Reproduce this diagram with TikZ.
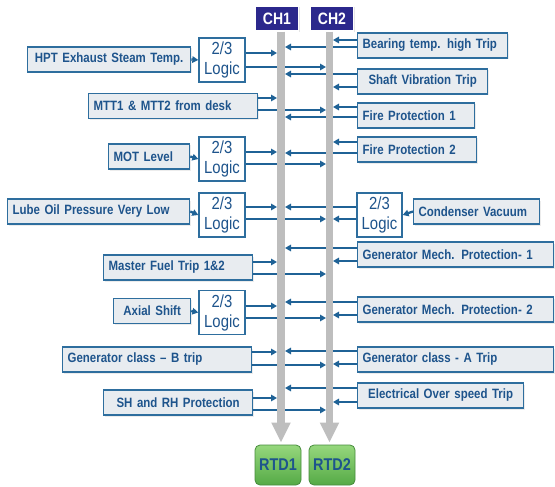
\documentclass[tikz,border=0pt]{standalone}
\usepackage{fontspec}
\newfontfamily\nfont{Liberation Sans}[FakeStretch=0.85,Ligatures=TeX]
\usetikzlibrary{arrows.meta,shadows}

\definecolor{sigblue}{RGB}{31,98,150}
\definecolor{boxline}{RGB}{46,110,158}
\definecolor{boxfill}{RGB}{232,236,240}
\definecolor{txtblue}{RGB}{30,84,140}
\definecolor{busgray}{RGB}{190,190,190}
\definecolor{chfill}{RGB}{43,40,140}
\definecolor{rtdtop}{RGB}{150,215,125}
\definecolor{rtdbot}{RGB}{85,170,70}
\definecolor{rtdline}{RGB}{70,140,60}

\tikzset{
  inbox/.style={draw=boxline, line width=1.3pt, fill=boxfill, text=txtblue,
    font=\nfont\fontsize{13.5}{15}\selectfont\bfseries, minimum height=25pt,
    inner xsep=5pt, inner ysep=0pt, anchor=west, align=left,
    drop shadow={shadow xshift=1.5pt, shadow yshift=-1.5pt, opacity=0.15}},
  logic/.style={draw=boxline, line width=1.3pt, fill=white, text=txtblue,
    font=\nfont\fontsize{17.5}{20}\selectfont, minimum width=46pt,
    minimum height=44pt, inner sep=1pt, align=center},
  chbox/.style={draw=white, line width=1.5pt, fill=chfill, text=white,
    font=\nfont\fontsize{16.5}{18}\selectfont\bfseries, minimum width=43pt,
    minimum height=25pt, inner sep=1pt,
    drop shadow={shadow xshift=1pt, shadow yshift=-1pt, opacity=0.2}},
  rtd/.style={draw=rtdline, line width=0.8pt, rounded corners=5pt,
    top color=rtdtop, bottom color=rtdbot, text=txtblue,
    font=\nfont\fontsize{17}{18}\selectfont\bfseries, minimum width=46pt,
    minimum height=40pt, inner sep=1pt},
  sig/.style={draw=sigblue, line width=2.3pt, -{Triangle[length=6pt,width=6.5pt]}},
  bus/.style={draw=busgray, line width=7.5pt, -{Triangle[length=20pt,width=18pt]}}
}

\begin{document}
\begin{tikzpicture}[x=1pt,y=-1pt]
\useasboundingbox (0,0) rectangle (555,487);

% channel heads and trip devices
\node[chbox] (CH1) at (277,18.5) {CH1};
\node[chbox] (CH2) at (332,18.5) {CH2};
\node[rtd] (RTD1) at (278,465) {RTD1};
\node[rtd] (RTD2) at (332,465) {RTD2};
\coordinate (bus1) at (281,0);
\coordinate (bus2) at (329.5,0);
\coordinate (bus1w) at (277,0);
\coordinate (bus1e) at (285,0);
\coordinate (bus2w) at (326,0);
\coordinate (bus2e) at (333,0);

% left inputs
\node[inbox, text width=153pt, align=center] (hpt) at (27,59.5) {HPT Exhaust Steam Temp.};
\node[inbox, text width=159pt] (mtt) at (88,106) {MTT1 \& MTT2 from desk};
\node[inbox, text width=71pt] (mot) at (108,156.5) {MOT Level};
\node[inbox, text width=172pt] (lube) at (7,211.5) {Lube Oil Pressure Very Low};
\node[inbox, text width=139pt] (mft) at (103,267.5) {Master Fuel Trip 1\&2};
\node[inbox, text width=67pt, align=center] (axial) at (113,311) {Axial Shift};
\node[inbox, text width=179pt] (genb) at (62,359.5) {Generator class – B trip};
\node[inbox, text width=139pt, align=center] (shrh) at (103,402.5) {SH and RH Protection};

\node[logic] (lg1) at (222,60) {2/3\\Logic};
\node[logic] (lg2) at (222,159) {2/3\\Logic};
\node[logic] (lg3) at (222,215) {2/3\\Logic};
\node[logic] (lg5) at (222,312.5) {2/3\\Logic};

% right inputs
\node[inbox, text width=140pt] (bear) at (357,45.5) {Bearing temp. high Trip};
\node[inbox, text width=120pt, align=center] (shaft) at (357,81.5) {Shaft Vibration Trip};
\node[inbox, text width=107pt] (fp1) at (357,115.5) {Fire Protection 1};
\node[inbox, text width=109pt] (fp2) at (357,149.5) {Fire Protection 2};
\node[logic, minimum width=45pt] (lg4) at (379.5,215) {2/3\\Logic};
\node[inbox, text width=116pt] (cond) at (413,211.5) {Condenser Vacuum};
\node[inbox, text width=186pt] (gmp1) at (357,254.5) {Generator Mech. Protection- 1};
\node[inbox, text width=186pt] (gmp2) at (357,309.5) {Generator Mech. Protection- 2};
\node[inbox, text width=186pt] (gena) at (357,359.5) {Generator class - A Trip};
\node[inbox, text width=156pt, align=center] (eos) at (357,395.5) {Electrical Over speed Trip};

% into the 2/3 logic
\draw[sig] (hpt.east) -- (lg1.west);
\draw[sig] (mot.east) -- (lg2.west);
\draw[sig] (lube.east) -- (lg3.west);
\draw[sig] (axial.east) -- (lg5.west);
\draw[sig] (cond.west) -- (lg4.east);

% signals to both channels
\foreach \s/\ya/\yb in {lg1/53/67, mtt/98/110, lg2/152/164, lg3/207/219,
    mft/262/274, lg5/306/318, genb/352/365, shrh/398/410}{
  \draw[sig] (\s.east |- 0,\ya) -- (bus1w |- 0,\ya);
  \draw[sig] (\s.east |- 0,\yb) -- (bus2w |- 0,\yb);
}
\foreach \s/\ya/\yb in {bear/47/40, shaft/74/87, fp1/117/107, fp2/153/142,
    lg4/207/219, gmp1/248/261, gmp2/302/315, gena/351/364, eos/388/402}{
  \draw[sig] (\s.west |- 0,\ya) -- (bus1e |- 0,\ya);
  \draw[sig] (\s.west |- 0,\yb) -- (bus2e |- 0,\yb);
}

% channel buses
\draw[bus] (CH1.south -| bus1) -- ([yshift=2pt]RTD1.north -| bus1);
\draw[bus] (CH2.south -| bus2) -- ([yshift=2pt]RTD2.north -| bus2);

\end{tikzpicture}
\end{document}
